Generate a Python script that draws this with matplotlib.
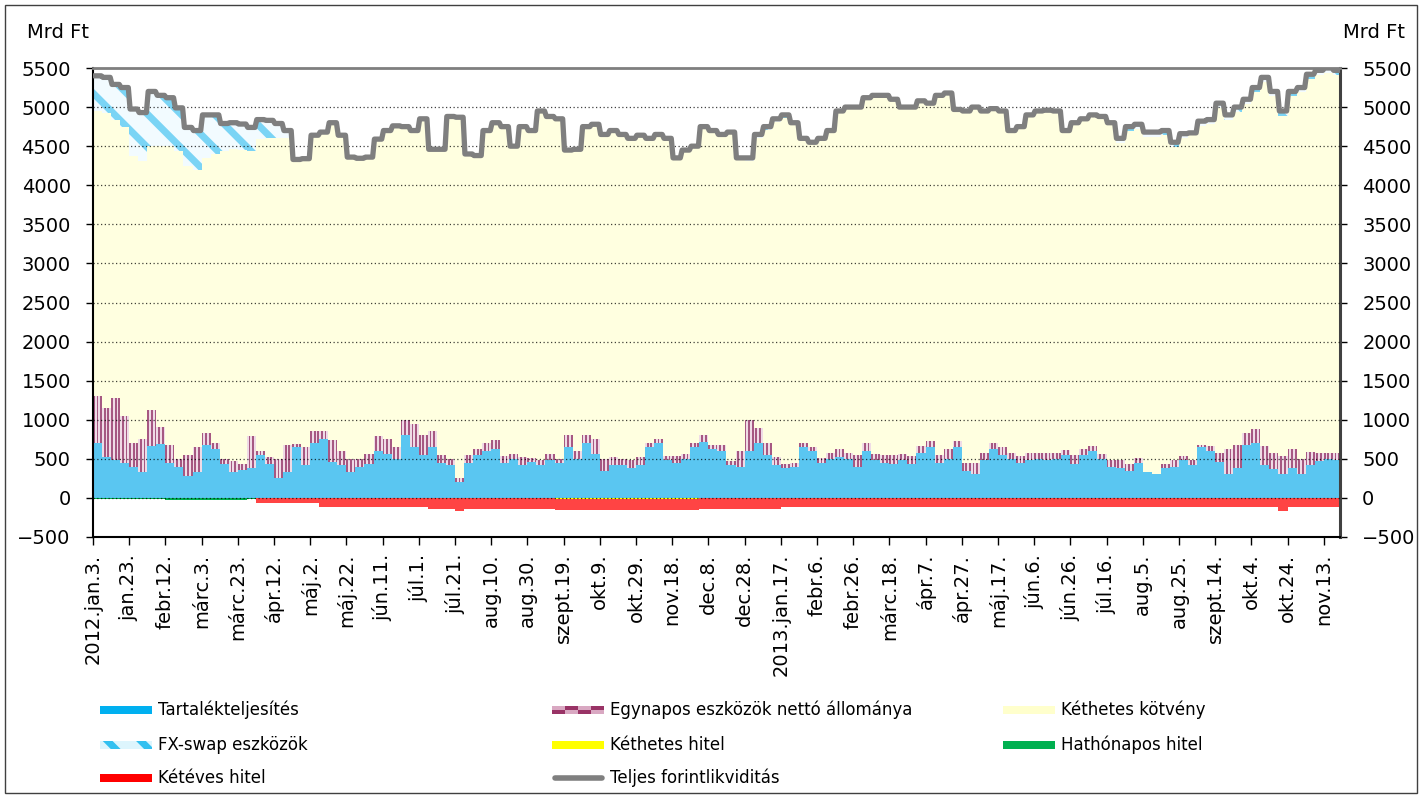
import numpy as np
import matplotlib
matplotlib.use("Agg")
import matplotlib.pyplot as plt
from matplotlib.patches import Rectangle
from matplotlib.lines import Line2D

plt.rcParams['font.family'] = ['DejaVu Sans']
plt.rcParams['hatch.linewidth'] = 5.0

W, H = 1422, 798
PERIOD_DAYS = 5          # each reading below covers five calendar days
N_DAYS = 689             # 2012-01-03 ... 2013-11-20

# Total forint liquidity (Mrd Ft), one reading per 5-day period
total_liq = [
    5400, 5380, 5290, 5250, 4975, 4930, 5200, 5150, 5120, 4990,
    4740, 4700, 4900, 4900, 4790, 4800, 4783, 4740, 4840, 4830,
    4790, 4700, 4330, 4340, 4640, 4680, 4800, 4640, 4360, 4345,
    4360, 4590, 4700, 4760, 4750, 4700, 4850, 4460, 4460, 4880,
    4870, 4400, 4380, 4700, 4800, 4750, 4500, 4750, 4700, 4950,
    4880, 4850, 4450, 4460, 4750, 4780, 4650, 4700, 4650, 4600,
    4640, 4600, 4650, 4600, 4350, 4450, 4500, 4750, 4700, 4650,
    4680, 4350, 4350, 4650, 4750, 4850, 4900, 4800, 4600, 4550,
    4600, 4700, 4950, 5000, 5000, 5120, 5150, 5150, 5100, 5000,
    5000, 5080, 5050, 5150, 5180, 4970, 4950, 5000, 4950, 4980,
    4950, 4700, 4750, 4900, 4950, 4960, 4950, 4700, 4800, 4850,
    4900, 4880, 4800, 4600, 4750, 4780, 4680, 4680, 4700, 4550,
    4660, 4670, 4820, 4840, 5050, 4900, 5000, 5100, 5250, 5380,
    5200, 4950, 5200, 5250, 5420, 5470, 5500, 5470,
]

# Tartalékteljesítés (reserve holdings)
reserve = [
    700, 520, 490, 450, 400, 330, 660, 690, 450, 400,
    280, 330, 680, 620, 430, 330, 360, 380, 550, 440,
    260, 330, 650, 420, 700, 750, 460, 420, 330, 400,
    430, 600, 560, 500, 800, 650, 550, 650, 450, 420,
    200, 450, 550, 600, 620, 450, 500, 420, 460, 420,
    480, 450, 650, 500, 700, 560, 350, 420, 420, 380,
    420, 650, 700, 480, 450, 500, 650, 720, 620, 600,
    420, 400, 600, 700, 550, 420, 380, 400, 650, 600,
    450, 500, 520, 500, 400, 600, 480, 450, 430, 480,
    440, 580, 650, 450, 500, 650, 350, 300, 480, 620,
    550, 500, 450, 480, 500, 480, 500, 550, 430, 550,
    600, 500, 400, 380, 350, 450, 330, 310, 380, 400,
    480, 420, 650, 600, 460, 300, 380, 680, 700, 420,
    370, 300, 380, 300, 420, 470, 500, 480,
]

# Egynapos eszközök nettó állománya (overnight instruments, net)
overnight = [
    600, 630, 790, 600, 300, 430, 460, 220, 230, 100,
    270, 320, 150, 80, 70, 140, 70, 410, 50, 80,
    240, 350, 40, 230, 150, 100, 280, 180, 170, 100,
    130, 190, 200, 150, 200, 300, 250, 200, 100, 80,
    50, 100, 80, 100, 120, 80, 60, 100, 50, 60,
    80, 50, 150, 100, 100, 200, 150, 100, 80, 100,
    100, 50, 50, 60, 80, 60, 50, 80, 60, 80,
    50, 200, 400, 200, 150, 100, 60, 50, 50, 50,
    60, 80, 100, 80, 150, 100, 80, 100, 120, 80,
    100, 80, 80, 100, 120, 80, 100, 150, 100, 80,
    100, 80, 80, 100, 80, 100, 80, 60, 120, 80,
    60, 60, 80, 100, 80, 60, 0, 0, 50, 80,
    60, 60, 30, 60, 120, 330, 300, 150, 180, 250,
    200, 230, 240, 200, 170, 100, 70, 90,
]

# FX-swap eszközök
fx_swap = [
    450, 450, 450, 500, 600, 620, 700, 650, 620, 550,
    500, 500, 550, 500, 350, 330, 330, 300, 250, 220,
    180, 100, 0, 0, 0, 0, 0, 0, 0, 0,
    0, 0, 0, 0, 0, 0, 0, 0, 0, 0,
    0, 0, 0, 0, 0, 0, 0, 0, 0, 0,
    0, 0, 0, 0, 0, 0, 0, 0, 0, 0,
    0, 0, 0, 0, 0, 0, 0, 0, 0, 0,
    0, 0, 40, 40, 40, 40, 40, 0, 0, 0,
    0, 0, 0, 0, 0, 0, 0, 0, 0, 0,
    0, 0, 0, 0, 0, 0, 0, 0, 0, 0,
    0, 0, 0, 0, 0, 0, 0, 0, 0, 0,
    0, 0, 0, 60, 60, 60, 60, 60, 60, 60,
    60, 0, 60, 60, 60, 60, 60, 60, 60, 60,
    60, 60, 60, 60, 60, 60, 60, 60,
]

# Loans shown below zero: (first period, last period, value)
two_year_loan = [(18, 24, -60), (25, 36, -110), (37, 39, -140), (40, 40, -170),
                 (41, 75, -140), (76, 130, -120), (131, 131, -170), (132, 137, -120)]
six_month_loan = [(0, 7, -15), (8, 16, -25), (17, 17, -20)]
two_week_loan = [(51, 66, -12)]

tick_labels = [
    "2012.jan.3.", "jan.23.", "febr.12.", "márc.3.", "márc.23.", "ápr.12.",
    "máj.2.", "máj.22.", "jún.11.", "júl.1.", "júl.21.", "aug.10.", "aug.30.",
    "szept.19.", "okt.9.", "okt.29.", "nov.18.", "dec.8.", "dec.28.",
    "2013.jan.17.", "febr.6.", "febr.26.", "márc.18.", "ápr.7.", "ápr.27.",
    "máj.17.", "jún.6.", "jún.26.", "júl.16.", "aug.5.", "aug.25.",
    "szept.14.", "okt.4.", "okt.24.", "nov.13.",
]
TICK_STEP = 20  # days between labelled ticks

N_PER = len(total_liq)


def daily(vals):
    return np.repeat(np.asarray(vals, dtype=float), PERIOD_DAYS)[:N_DAYS]


def daily_segments(segs):
    arr = np.zeros(N_PER)
    for a, b, v in segs:
        arr[a:b + 1] = v
    return daily(arr)


line_d = daily(total_liq)
res_d = daily(reserve)
ovn_d = daily(overnight)
fx_d = daily(fx_swap)
bond_d = line_d - res_d - ovn_d - fx_d
loan2y_d = daily_segments(two_year_loan)
loan6m_d = daily_segments(six_month_loan)
loan2w_d = daily_segments(two_week_loan)

C_BLUE = '#5AC6F1'
C_PURPLE = '#A65882'
C_PINK = '#EFDBE6'
C_BOND = '#FFFFE0'
C_FX = '#7AD4F5'
C_FX_BG = '#F2FBFF'
C_RED = '#FF4444'
C_GREEN = '#00B050'
C_YELLOW = '#FFFF00'
C_LINE = '#7F7F7F'

fig = plt.figure(figsize=(W / 100, H / 100), dpi=100)
ax = fig.add_axes([93 / W, 1 - 537 / H, (1340 - 93) / W, (537 - 68) / H])

x = np.arange(N_DAYS) + 0.5
bw = 1.0
even = (np.arange(N_DAYS) % 2) == 0

ax.bar(x, res_d, width=bw, color=C_BLUE, linewidth=0, zorder=2)
ax.bar(x[even], ovn_d[even], bottom=res_d[even], width=bw, color=C_PURPLE,
       linewidth=0, zorder=2)
ax.bar(x[~even], ovn_d[~even], bottom=res_d[~even], width=bw, color=C_PINK,
       linewidth=0, zorder=2)
ax.bar(x, bond_d, bottom=res_d + ovn_d, width=bw, color=C_BOND, linewidth=0,
       zorder=2)
ax.bar(x, fx_d, bottom=res_d + ovn_d + bond_d, width=bw, facecolor=C_FX_BG,
       edgecolor=C_FX, hatch='\\', linewidth=0, zorder=2)
ax.bar(x, loan6m_d, width=bw, color=C_GREEN, linewidth=0, zorder=2)
ax.bar(x, loan2w_d, bottom=loan6m_d, width=bw, color=C_YELLOW, linewidth=0,
       zorder=2)
ax.bar(x, loan2y_d, bottom=loan6m_d + loan2w_d, width=bw, color=C_RED,
       linewidth=0, zorder=2)

# dotted gridlines stay visible across the bars
for v in range(0, 5001, 500):
    ax.axhline(v, color='black', lw=0.9, ls=(0, (1, 2)), alpha=0.75, zorder=3)

ax.plot(x, line_d, color=C_LINE, lw=3.8, solid_joinstyle='round',
        solid_capstyle='round', zorder=5)

ax.set_xlim(0, N_DAYS)
ax.set_ylim(-500, 5500)
ax.set_yticks(np.arange(-500, 5501, 500))
ax.set_xticks(np.arange(len(tick_labels)) * TICK_STEP)
ax.set_xticklabels(tick_labels, rotation=90, ha='center', va='top')
ax.tick_params(axis='y', left=True, right=True, labelleft=True,
               labelright=True, direction='out', length=5, width=1,
               pad=11, labelsize=14)
ax.tick_params(axis='x', direction='out', length=6, width=1, pad=6,
               labelsize=14)

for s in ('left', 'bottom'):
    ax.spines[s].set_color('black')
    ax.spines[s].set_linewidth(1.5)
ax.spines['right'].set_color('#404040')
ax.spines['right'].set_linewidth(2.2)
ax.spines['top'].set_color(C_LINE)
ax.spines['top'].set_linewidth(2)

fig.text(27 / W, 1 - 33 / H, 'Mrd Ft', fontsize=14, ha='left', va='center')
fig.text(1405 / W, 1 - 33 / H, 'Mrd Ft', fontsize=14, ha='right',
         va='center')

fig.patches.append(Rectangle((5 / W, 5 / H), 1412 / W, 788 / H,
                             transform=fig.transFigure, fill=False,
                             edgecolor='#404040', lw=1))


def fx_(px):
    return px / W


def fy_(py):
    return 1 - py / H


def legend_rect(x0, yc, color, **kw):
    fig.patches.append(Rectangle((fx_(x0), fy_(yc + 4)), 52 / W, 8 / H,
                                 transform=fig.transFigure, linewidth=0,
                                 facecolor=color, **kw))


def legend_text(x0, yc, s):
    fig.text(fx_(x0), fy_(yc), s, fontsize=12, ha='left', va='center')


rows = [710, 745, 778]
cols = [100, 552, 1003]

legend_rect(cols[0], rows[0], '#00B0F0')
legend_text(cols[0] + 58, rows[0], 'Tartalékteljesítés')

# checkered handle for overnight instruments
for k in range(4):
    for half in range(2):
        c = '#993366' if (k + half) % 2 == 0 else '#D9A8C2'
        fig.patches.append(Rectangle((fx_(cols[1] + k * 13), fy_(rows[0] + 4 - half * 4)),
                                     13 / W, 4 / H, transform=fig.transFigure,
                                     linewidth=0, facecolor=c))
legend_text(cols[1] + 58, rows[0], 'Egynapos eszközök nettó állománya')

legend_rect(cols[2], rows[0], '#FFFFCC')
legend_text(cols[2] + 58, rows[0], 'Kéthetes kötvény')

fig.patches.append(Rectangle((fx_(cols[0]), fy_(rows[1] + 4)), 52 / W, 8 / H,
                             transform=fig.transFigure, linewidth=0,
                             facecolor='#DDF5FD', edgecolor='#33C0F0',
                             hatch='\\'))
legend_text(cols[0] + 58, rows[1], 'FX-swap eszközök')

legend_rect(cols[1], rows[1], C_YELLOW)
legend_text(cols[1] + 58, rows[1], 'Kéthetes hitel')

legend_rect(cols[2], rows[1], C_GREEN)
legend_text(cols[2] + 58, rows[1], 'Hathónapos hitel')

legend_rect(cols[0], rows[2], '#FF0000')
legend_text(cols[0] + 58, rows[2], 'Kétéves hitel')

fig.lines.append(Line2D([fx_(cols[1] + 3), fx_(cols[1] + 50)],
                        [fy_(rows[2]), fy_(rows[2])],
                        transform=fig.transFigure, color=C_LINE, lw=4,
                        solid_capstyle='round'))
legend_text(cols[1] + 58, rows[2], 'Teljes forintlikviditás')

fig.savefig('out.png', dpi=100)
